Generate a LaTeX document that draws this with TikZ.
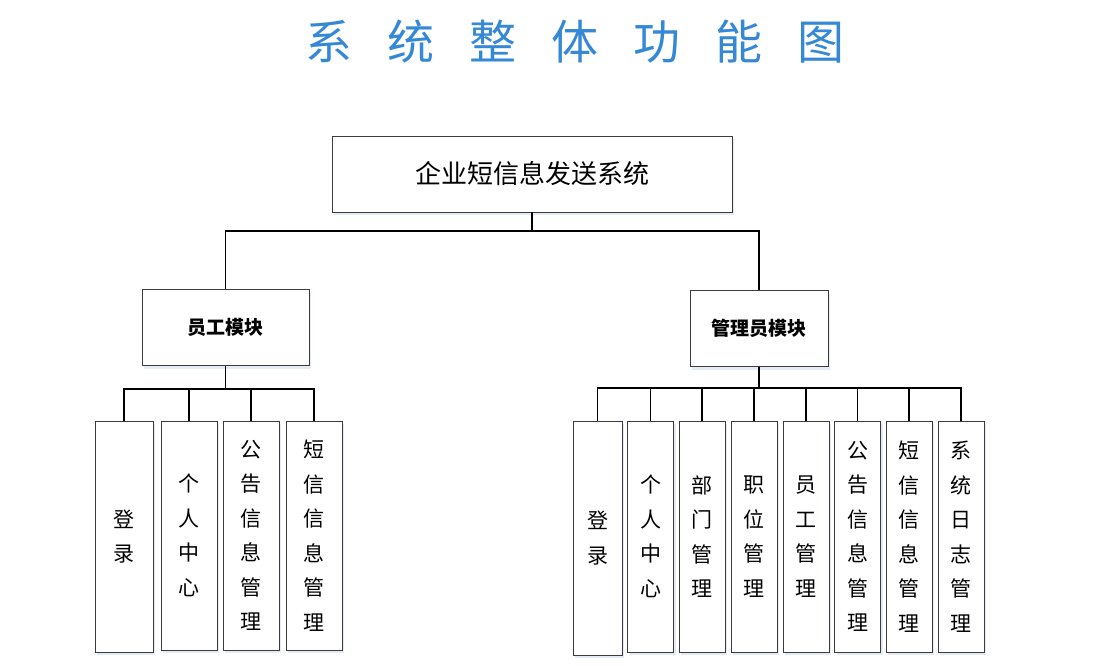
\documentclass[tikz,border=0pt]{standalone}
\usepackage{fontspec}
\newfontfamily\cjk{Noto Sans CJK SC}
\usetikzlibrary{shadows}
\definecolor{titleblue}{RGB}{52,136,214}
\definecolor{boxline}{RGB}{60,60,60}
\definecolor{shadowc}{RGB}{228,234,246}
\tikzset{
  box/.style={draw=boxline, line width=0.9pt, fill=white, inner sep=0pt,
    drop shadow={shadow xshift=2pt, shadow yshift=-3pt, fill=shadowc, opacity=1}},
  topbox/.style={box, minimum width=400pt, minimum height=76pt,
    font=\cjk\fontsize{26}{30}\selectfont},
  modbox/.style={box, minimum height=76pt,
    font=\cjk\bfseries\fontsize{19}{24}\selectfont},
  leafbox/.style={box, align=center,
    font=\cjk\fontsize{21}{34.5}\selectfont},
  conn/.style={draw=black, line width=1.5pt}
}
\begin{document}
\begin{tikzpicture}[x=1pt,y=-1pt]
\useasboundingbox (0,0) rectangle (1110,666);
% title
\node[text=titleblue, font=\cjk\fontsize{47}{50}\selectfont, inner sep=0pt] (title) at (575,42)
  {系\hspace{35pt}统\hspace{35pt}整\hspace{35pt}体\hspace{35pt}功\hspace{35pt}能\hspace{35pt}图};
% root
\node[topbox] (top) at (532,174) {企业短信息发送系统};
% modules
\node[modbox, minimum width=167pt] (lm) at (225.5,327.5) {员工模块};
\node[modbox, minimum width=138pt] (rm) at (759,328.5) {管理员模块};
% left leaves
\node[leafbox, minimum width=58pt, minimum height=231pt] (l1) at (124,536.5) {登\\录};
\node[leafbox, minimum width=56pt, minimum height=229pt] (l2) at (189,535.5) {个\\人\\中\\心};
\node[leafbox, minimum width=56pt, minimum height=229pt] (l3) at (251,535.5) {公\\告\\信\\息\\管\\理};
\node[leafbox, minimum width=56pt, minimum height=229pt] (l4) at (314,535.5) {短\\信\\信\\息\\管\\理};
% right leaves
\node[leafbox, minimum width=49pt, minimum height=234pt] (r1) at (597.5,538) {登\\录};
\node[leafbox, minimum width=46pt, minimum height=231pt] (r2) at (650.5,536.5) {个\\人\\中\\心};
\node[leafbox, minimum width=46pt, minimum height=231pt] (r3) at (702,536.5) {部\\门\\管\\理};
\node[leafbox, minimum width=46pt, minimum height=231pt] (r4) at (754,536.5) {职\\位\\管\\理};
\node[leafbox, minimum width=46pt, minimum height=231pt] (r5) at (806,536.5) {员\\工\\管\\理};
\node[leafbox, minimum width=46pt, minimum height=231pt] (r6) at (857.5,536.5) {公\\告\\信\\息\\管\\理};
\node[leafbox, minimum width=46pt, minimum height=231pt] (r7) at (909,536.5) {短\\信\\信\\息\\管\\理};
\node[leafbox, minimum width=46pt, minimum height=231pt] (r8) at (961,536.5) {系\\统\\日\\志\\管\\理};
% junctions
\coordinate (j0) at (532,231);
\coordinate (jl) at (225.5,389);
\coordinate (jr) at (759,388);
% connectors
\draw[conn] (top.south) -- (j0);
\draw[conn] (j0) -| (lm.north);
\draw[conn] (j0) -| (rm.north);
\draw[conn] (lm.south) -- (jl);
\foreach \n in {l1,l2,l3,l4} \draw[conn] (jl) -| (\n.north);
\draw[conn] (rm.south) -- (jr);
\foreach \n in {r1,r2,r3,r4,r5,r6,r7,r8} \draw[conn] (jr) -| (\n.north);
\end{tikzpicture}
\end{document}
